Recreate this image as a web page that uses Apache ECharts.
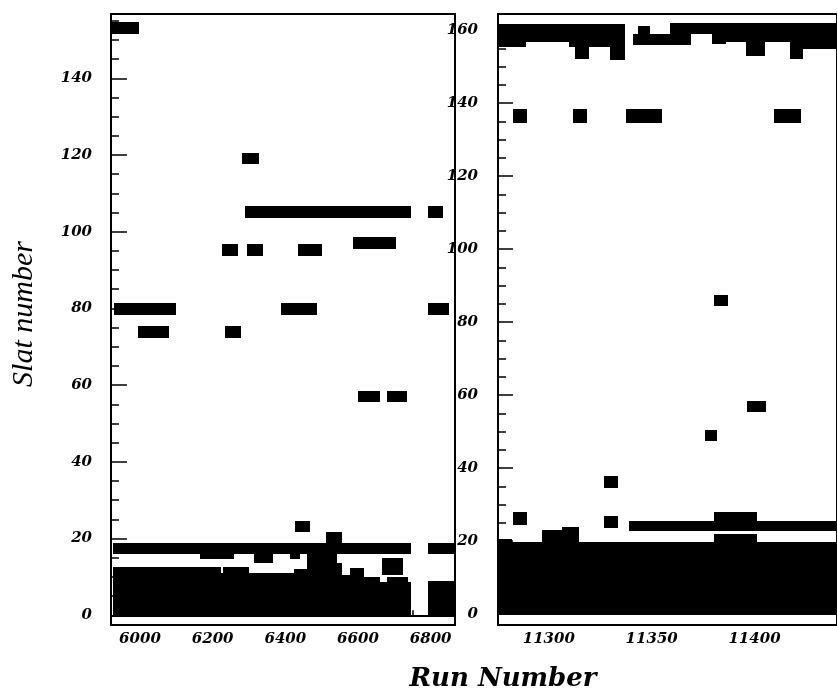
<!DOCTYPE html>
<html>
<head>
<meta charset="utf-8">
<script src="https://cdn.jsdelivr.net/npm/echarts@6/dist/echarts.min.js"></script>
<style>
html,body{margin:0;padding:0;background:#fff;}
#chart{width:837px;height:692px;}
</style>
</head>
<body>
<div id="chart"></div>
<script>
// ---------- tick labels ----------
const leftXLabels = [6000, 6200, 6400, 6600, 6800];
const leftYLabels = [0, 20, 40, 60, 80, 100, 120, 140];
const rightXLabels = [11300, 11350, 11400];
const rightYLabels = [0, 20, 40, 60, 80, 100, 120, 140, 160];

// ---------- left panel (runs ~5920-6867) : [runStart, runEnd, slatLow, slatHigh] ----------
const leftHits = [
  [5920, 5997, 151.6, 154.6],
  [6280, 6328, 117.6, 120.6],
  [6288, 6745, 103.5, 106.7],
  [6793, 6834, 103.5, 106.7],
  [6227, 6270, 93.6, 96.9],
  [6295, 6339, 93.6, 96.9],
  [6434, 6500, 93.6, 96.9],
  [6585, 6704, 95.6, 98.7],
  [5929, 6098, 78.4, 81.5],
  [6388, 6486, 78.4, 81.5],
  [6793, 6850, 78.4, 81.5],
  [5995, 6079, 72.3, 75.3],
  [6235, 6278, 72.3, 75.3],
  [6599, 6660, 55.5, 58.4],
  [6681, 6734, 55.5, 58.4],
  [6428, 6467, 21.7, 24.7],
  [6513, 6555, 18.8, 21.8],
  [6665, 6724, 10.5, 14.9]
];
const leftBand = [
  [5926, 6745, 15.9, 18.8],
  [6793, 6867, 15.9, 18.8],
  [6164, 6260, 14.6, 15.9],
  [6315, 6366, 13.7, 15.9],
  [6413, 6440, 14.7, 15.9]
];
// [runStart, runEnd, topSlat] filled from slat 0
const leftBlock = [
  [5926, 6224, 12.7],
  [6224, 6228, 11],
  [6228, 6300, 12.7],
  [6300, 6425, 11],
  [6425, 6460, 12],
  [6460, 6541, 16],
  [6541, 6555, 13.6],
  [6555, 6578, 10.5],
  [6578, 6616, 12.3],
  [6616, 6660, 10.1],
  [6660, 6679, 8.8],
  [6679, 6738, 10.1],
  [6738, 6745, 8.8],
  [6793, 6867, 9]
];

// ---------- right panel (runs ~11275-11440) ----------
const rightTopBand = [
  [11275.3, 11289.1, 155.4, 161.6],
  [11289.1, 11309.8, 156.7, 161.6],
  [11309.8, 11312.8, 155.4, 161.6],
  [11312.8, 11319.7, 152.2, 161.6],
  [11319.7, 11329.6, 155.4, 161.6],
  [11329.6, 11337.2, 151.8, 161.6],
  [11341.1, 11358.9, 155.8, 158.8],
  [11343.4, 11349.0, 158.8, 161.0],
  [11358.9, 11369.3, 155.8, 162],
  [11369.3, 11379.2, 158.8, 162],
  [11379.2, 11386.1, 156.1, 162],
  [11386.1, 11396.0, 156.7, 162],
  [11396.0, 11405.2, 152.9, 162],
  [11405.2, 11417.4, 156.7, 162],
  [11417.4, 11423.5, 152.0, 162],
  [11423.5, 11441.0, 154.7, 162]
];
const rightHits = [
  [11282.6, 11289.6, 134.6, 138.3],
  [11312.0, 11318.6, 134.6, 138.3],
  [11337.5, 11355.1, 134.6, 138.3],
  [11409.3, 11422.7, 134.6, 138.3],
  [11380.3, 11387.3, 84.3, 87.5],
  [11396.5, 11405.4, 55.3, 58.5],
  [11375.7, 11382.0, 47.5, 50.5],
  [11326.9, 11333.4, 34.5, 37.7],
  [11326.9, 11333.4, 23.7, 26.8],
  [11282.7, 11289.6, 24.5, 27.9],
  [11338.8, 11441.0, 22.7, 25.6],
  [11380.3, 11401.0, 25.6, 27.9]
];
const rightBlock = [
  [11275.3, 11282.3, 20.5],
  [11282.3, 11296.5, 19.8],
  [11296.5, 11306.2, 22.9],
  [11306.2, 11314.6, 23.9],
  [11314.6, 11380.3, 19.8],
  [11380.3, 11401.0, 21.9],
  [11401.0, 11441.0, 19.8]
];

function range(a, b, s) { const r = []; for (let v = a; v <= b + 1e-9; v += s) r.push(v); return r; }

const chart = echarts.init(document.getElementById('chart'), null, { renderer: 'canvas' });

const tickFont = { fontFamily: 'DejaVu Serif', fontWeight: 'bold', fontStyle: 'italic', fontSize: 15, color: '#000' };

function renderRect(params, api) {
  const p0 = api.coord([api.value(0), api.value(2)]);
  const p1 = api.coord([api.value(1), api.value(3)]);
  const cs = params.coordSys;
  const x0 = Math.max(Math.round(p0[0]), Math.round(cs.x));
  const x1 = Math.min(Math.round(p1[0]), Math.round(cs.x + cs.width));
  const yTop = Math.max(Math.round(p1[1]), Math.round(cs.y));
  const yBot = Math.min(Math.round(p0[1]), Math.round(cs.y + cs.height));
  if (x1 <= x0 || yBot <= yTop) return;
  return { type: 'rect', shape: { x: x0, y: yTop, width: x1 - x0, height: yBot - yTop }, style: { fill: '#000' } };
}

function rectSeries(data, xi, yi) {
  return {
    type: 'custom', xAxisIndex: xi, yAxisIndex: yi, renderItem: renderRect,
    encode: { x: [0, 1], y: [2, 3] }, data: data, silent: true, animation: false
  };
}

const L = { xmin: 5920.2, xmax: 6867, ymin: -2.53, ymax: 156.75 };
const R = { xmin: 11275.3, xmax: 11440.1, ymin: -3.01, ymax: 164.4 };

function xAxes(g, P, labels, minor, majorLen, minorLen) {
  return [{
    type: 'value', gridIndex: g, position: 'bottom', min: P.xmin, max: P.xmax,
    splitLine: { show: false },
    axisLine: { show: true, lineStyle: { color: '#000', width: 2 } },
    axisTick: { show: true, inside: true, length: majorLen, customValues: labels, lineStyle: { color: '#000', width: 1.5 } },
    axisLabel: Object.assign({ show: true, margin: 7, customValues: labels, formatter: v => String(v) }, tickFont)
  }, {
    type: 'value', gridIndex: g, position: 'bottom', min: P.xmin, max: P.xmax,
    splitLine: { show: false },
    axisLine: { show: false },
    axisTick: { show: true, inside: true, length: minorLen, customValues: minor, lineStyle: { color: '#000', width: 1.5 } },
    axisLabel: { show: false }
  }];
}
function yAxes(g, P, labels, minor, majorLen, minorLen, margin) {
  return [{
    type: 'value', gridIndex: g, position: 'left', min: P.ymin, max: P.ymax,
    splitLine: { show: false },
    axisLine: { show: true, lineStyle: { color: '#000', width: 2 } },
    axisTick: { show: true, inside: true, length: majorLen, customValues: labels, lineStyle: { color: '#000', width: 1.5 } },
    axisLabel: Object.assign({ show: true, margin: margin, customValues: labels, formatter: v => String(v) }, tickFont)
  }, {
    type: 'value', gridIndex: g, position: 'left', min: P.ymin, max: P.ymax,
    splitLine: { show: false },
    axisLine: { show: false },
    axisTick: { show: true, inside: true, length: minorLen, customValues: minor, lineStyle: { color: '#000', width: 1.5 } },
    axisLabel: { show: false }
  }];
}

const toBlock = b => [b[0], b[1], 0, b[2]];

const option = {
  backgroundColor: '#fff',
  animation: false,
  grid: [
    { left: 111, top: 14, width: 344, height: 611, show: true, borderColor: '#000', borderWidth: 2, backgroundColor: 'transparent' },
    { left: 498, top: 14, width: 360, height: 611, show: true, borderColor: '#000', borderWidth: 2, backgroundColor: 'transparent' }
  ],
  xAxis: [].concat(
    xAxes(0, L, leftXLabels, range(5950, 6850, 50), 9, 5),
    xAxes(1, R, rightXLabels, range(11280, 11440, 10), 9, 6)
  ),
  yAxis: [].concat(
    yAxes(0, L, leftYLabels, range(0, 155, 5), 16, 8, 19),
    yAxes(1, R, rightYLabels, range(0, 160, 5), 15, 8, 20)
  ),
  series: [
    rectSeries(leftBlock.map(toBlock), 0, 0),
    rectSeries(leftBand, 0, 0),
    rectSeries(leftHits, 0, 0),
    rectSeries(rightBlock.map(toBlock), 2, 2),
    rectSeries(rightTopBand, 2, 2),
    rectSeries(rightHits, 2, 2)
  ],
  graphic: [
    {
      type: 'text', x: 24, y: 314, rotation: Math.PI / 2,
      style: { text: 'Slat number', fontFamily: 'Liberation Serif', fontStyle: 'italic', fontSize: 30, fill: '#000', align: 'center', verticalAlign: 'middle' }
    },
    {
      type: 'text', x: 503, y: 679,
      style: { text: 'Run Number', fontFamily: 'DejaVu Serif', fontStyle: 'italic', fontWeight: 'bold', fontSize: 26, fill: '#000', align: 'center', verticalAlign: 'middle' }
    }
  ]
};
chart.setOption(option);
</script>
</body>
</html>
